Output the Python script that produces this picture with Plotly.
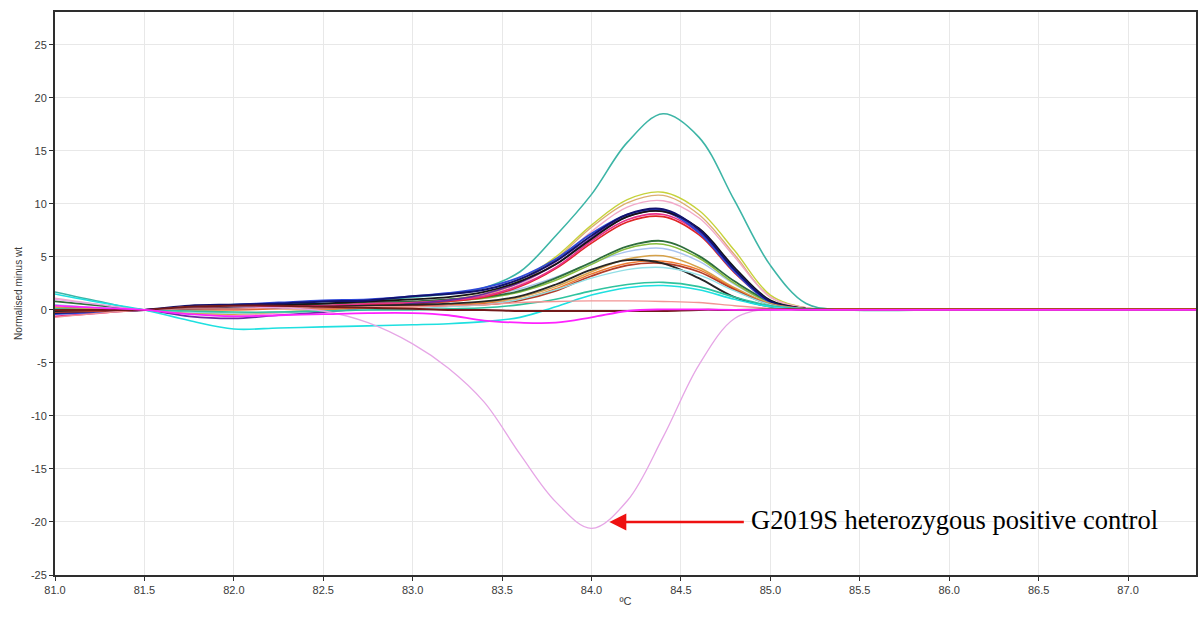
import plotly.graph_objects as go

# Temperature grid (°C) shared by every melt-difference curve
temps = [81.0, 81.25, 81.5, 81.75, 82.0, 82.25, 82.5, 82.75, 83.0, 83.2, 83.4, 83.6,
         83.8, 84.0, 84.2, 84.4, 84.6, 84.8, 85.0, 85.2, 85.4, 86.0, 86.5, 87.0, 87.38]

# Normalised fluorescence minus wild-type reference, one list per sample
s_teal = [1.7, 0.8, 0.0, 0.3, 0.5, 0.6, 0.8, 0.9, 1.2, 1.5, 2.1, 3.6, 7.0, 10.9, 15.8, 18.5, 16.3, 10.3, 4.2, 0.6, 0.05, 0, 0, 0, 0]
s_yellowgreen = [0.3, 0.1, 0.0, 0.2, 0.3, 0.4, 0.5, 0.6, 0.8, 1.0, 1.5, 2.8, 5.0, 8.0, 10.4, 11.1, 9.4, 5.6, 1.4, 0.2, 0.0, 0, 0, 0, 0]
s_tan_hi = [-0.2, -0.1, 0.0, 0.1, 0.2, 0.3, 0.5, 0.6, 0.7, 0.9, 1.4, 2.6, 4.8, 7.8, 10.1, 10.8, 9.0, 5.2, 1.2, 0.2, 0.0, 0, 0, 0, 0]
s_lightpink = [1.1, 0.5, 0.0, -0.3, -0.5, -0.3, 0.0, 0.3, 0.6, 0.8, 1.3, 2.4, 4.5, 7.4, 9.7, 10.3, 8.7, 5.0, 1.2, 0.2, 0.0, 0, 0, 0, 0]
s_navy = [-0.3, -0.1, 0.0, 0.4, 0.5, 0.6, 0.8, 0.9, 1.3, 1.5, 1.9, 2.9, 4.6, 7.0, 9.0, 9.5, 7.6, 3.8, 0.8, 0.1, 0.0, 0, 0, 0, 0]
s_blue = [-0.4, -0.2, 0.0, 0.3, 0.5, 0.7, 0.9, 1.0, 1.3, 1.6, 2.1, 3.1, 4.8, 7.2, 9.0, 9.4, 7.3, 3.6, 0.7, 0.1, 0.0, 0, 0, 0, 0]
s_purple = [0.2, 0.1, 0.0, -0.6, -0.8, -0.5, -0.2, 0.2, 0.6, 0.9, 1.5, 2.6, 4.3, 6.8, 8.8, 9.3, 7.4, 3.7, 0.8, 0.1, 0.0, 0, 0, 0, 0]
s_black = [-0.1, 0.0, 0.0, 0.3, 0.4, 0.5, 0.6, 0.8, 1.0, 1.2, 1.7, 2.7, 4.3, 6.7, 8.8, 9.3, 7.7, 4.0, 0.9, 0.1, 0.0, 0, 0, 0, 0]
s_rose = [-0.6, -0.3, 0.0, 0.1, 0.2, 0.3, 0.4, 0.6, 0.7, 0.9, 1.3, 2.3, 4.0, 6.5, 8.5, 9.0, 7.3, 3.7, 0.8, 0.1, 0.0, 0, 0, 0, 0]
s_red = [0.0, 0.0, 0.0, 0.2, 0.3, 0.3, 0.4, 0.5, 0.6, 0.8, 1.2, 2.2, 3.9, 6.3, 8.3, 8.8, 7.1, 3.5, 0.8, 0.1, 0.0, 0, 0, 0, 0]
s_darkgreen = [0.8, 0.4, 0.0, 0.2, 0.3, 0.5, 0.6, 0.7, 0.8, 1.0, 1.2, 1.8, 3.0, 4.5, 6.0, 6.5, 5.1, 2.7, 0.8, 0.1, 0.0, 0, 0, 0, 0]
s_olive = [0.0, 0.0, 0.0, 0.1, 0.2, 0.3, 0.4, 0.5, 0.6, 0.8, 1.1, 1.7, 2.8, 4.3, 5.8, 6.2, 4.9, 2.5, 0.7, 0.1, 0.0, 0, 0, 0, 0]
s_lightblue = [-0.3, -0.1, 0.0, 0.2, 0.3, 0.4, 0.5, 0.6, 0.8, 1.0, 1.3, 2.0, 3.1, 4.4, 5.5, 5.8, 4.6, 2.4, 0.7, 0.1, 0.0, 0, 0, 0, 0]
s_tan = [0.2, 0.1, 0.0, -0.3, -0.4, -0.2, 0.0, 0.2, 0.4, 0.5, 0.7, 1.2, 2.2, 3.6, 4.8, 5.1, 4.0, 2.1, 0.6, 0.1, 0.1, 0.1, 0.1, 0.1, 0.1]
s_charcoal = [-0.1, 0.0, 0.0, 0.1, 0.2, 0.2, 0.3, 0.4, 0.5, 0.6, 0.8, 1.3, 2.4, 3.8, 4.7, 4.4, 3.0, 1.2, 0.3, 0.0, 0.0, 0, 0, 0, 0]
s_brown = [-0.2, -0.1, 0.0, 0.1, 0.1, 0.2, 0.2, 0.3, 0.4, 0.4, 0.5, 0.9, 1.8, 3.2, 4.2, 4.4, 3.6, 1.9, 0.5, 0.1, 0.0, 0, 0, 0, 0]
s_orange = [0.0, 0.0, 0.0, 0.0, 0.0, 0.1, 0.1, 0.2, 0.3, 0.4, 0.6, 1.0, 2.0, 3.4, 4.4, 4.6, 3.8, 2.0, 0.5, 0.1, 0.1, 0.1, 0.1, 0.1, 0.1]
s_palecyan = [0.5, 0.2, 0.0, -0.2, -0.3, -0.2, -0.1, 0.0, 0.1, 0.3, 0.5, 1.0, 1.9, 3.0, 3.8, 4.0, 3.3, 1.8, 0.5, 0.1, 0.0, 0, 0, 0, 0]
s_seagreen = [0.1, 0.0, 0.0, -0.1, -0.2, -0.2, -0.1, 0.0, 0.0, 0.1, 0.2, 0.5, 1.0, 1.8, 2.4, 2.6, 2.2, 1.2, 0.4, 0.1, 0.0, 0, 0, 0, 0]
s_cyan = [1.5, 0.7, 0.0, -1.0, -1.8, -1.7, -1.6, -1.5, -1.4, -1.3, -1.1, -0.7, 0.3, 1.4, 2.1, 2.3, 1.9, 1.0, 0.3, 0.05, 0.0, 0, 0, 0, 0]
s_salmon = [-0.7, -0.3, 0.0, 0.1, 0.1, 0.2, 0.2, 0.3, 0.3, 0.4, 0.5, 0.7, 0.8, 0.85, 0.85, 0.8, 0.7, 0.4, 0.15, 0.05, 0.0, 0, 0, 0, 0]
s_maroon = [0.0, 0.0, 0.0, 0.3, 0.4, 0.4, 0.3, 0.2, 0.1, 0.0, 0.0, -0.1, -0.1, -0.1, -0.1, -0.1, 0.0, 0.0, 0.05, 0.05, 0.05, 0.05, 0.05, 0.05, 0.05]
s_magenta = [0.4, 0.2, 0.0, -0.4, -0.6, -0.5, -0.4, -0.3, -0.3, -0.5, -1.0, -1.2, -1.2, -0.7, -0.1, 0.05, 0.05, 0.0, 0.0, 0, 0, 0, 0, 0, 0]
s_g2019s = [1.0, 0.5, 0.0, 0.3, 0.3, 0.2, -0.1, -1.2, -3.2, -5.5, -8.7, -13.6, -18.1, -20.6, -18.0, -12.0, -5.2, -0.8, 0.1, 0.0, 0.0, 0, 0, 0, 0]

y_tick_vals = [-25, -20, -15, -10, -5, 0, 5, 10, 15, 20, 25]
y_tick_text = ["-25", "-20", "-15", "-10", "-5", "0", "5", "10", "15", "20", "25"]
x_tick_vals = [81.0, 81.5, 82.0, 82.5, 83.0, 83.5, 84.0, 84.5, 85.0, 85.5, 86.0, 86.5, 87.0]
x_tick_text = ["81.0", "81.5", "82.0", "82.5", "83.0", "83.5", "84.0", "84.5", "85.0", "85.5", "86.0", "86.5", "87.0"]

control_label = "G2019S heterozygous positive control"

# (values, colour, width) in drawing order
curves = [
    (s_teal, "#3db5a6", 1.6),
    (s_yellowgreen, "#c6d23a", 1.4),
    (s_tan_hi, "#dcae72", 1.4),
    (s_lightpink, "#f2a9c9", 1.4),
    (s_lightblue, "#a9c3ef", 1.4),
    (s_olive, "#86bd3e", 1.5),
    (s_darkgreen, "#2e6e3c", 1.8),
    (s_red, "#e02626", 1.6),
    (s_rose, "#e8318a", 1.7),
    (s_purple, "#6a2aa0", 1.7),
    (s_blue, "#2f48d8", 1.8),
    (s_black, "#151515", 1.8),
    (s_navy, "#12126e", 2.0),
    (s_tan, "#d6a24a", 1.5),
    (s_orange, "#ee7a30", 1.5),
    (s_brown, "#b23c28", 1.8),
    (s_charcoal, "#262626", 1.8),
    (s_palecyan, "#92dfe6", 1.4),
    (s_seagreen, "#2fc39e", 1.6),
    (s_cyan, "#1fe0e0", 1.6),
    (s_salmon, "#f29494", 1.4),
    (s_g2019s, "#e6a6e6", 1.3),
    (s_maroon, "#731a1a", 2.0),
    (s_magenta, "#ff22ff", 1.8),
]

fig = go.Figure()
for values, colour, width in curves:
    fig.add_trace(go.Scatter(
        x=temps, y=values, mode="lines",
        line=dict(color=colour, width=width, shape="spline", smoothing=1.0),
        showlegend=False, hoverinfo="skip",
    ))

tick_font = dict(family="Liberation Sans, Arial, sans-serif", size=11, color="#3a3a3a")

fig.update_xaxes(
    range=[81.0, 87.38], tickvals=x_tick_vals, ticktext=x_tick_text,
    showgrid=True, gridcolor="#e8e8e8", gridwidth=1,
    showline=True, linecolor="#2e2e2e", linewidth=2, mirror=True,
    ticks="outside", ticklen=4, tickcolor="#2e2e2e", tickfont=tick_font,
    zeroline=False,
    title=dict(text="ºC", font=dict(family="Liberation Sans, Arial, sans-serif", size=11, color="#3a3a3a"), standoff=2),
)
fig.update_yaxes(
    range=[-25, 28.1], tickvals=y_tick_vals, ticktext=y_tick_text,
    showgrid=True, gridcolor="#e8e8e8", gridwidth=1,
    showline=True, linecolor="#2e2e2e", linewidth=2, mirror=True,
    ticks="outside", ticklen=4, tickcolor="#2e2e2e", tickfont=tick_font,
    zeroline=False,
    title=dict(text="Normalised minus wt", font=dict(family="Liberation Sans, Arial, sans-serif", size=10, color="#3a3a3a"), standoff=6),
)

# Arrow pointing at the trough of the heterozygous control
fig.add_annotation(
    x=84.1, y=-20.0, ax=84.86, ay=-20.0, xref="x", yref="y", axref="x", ayref="y",
    text="", showarrow=True, arrowhead=2, arrowsize=1.3, arrowwidth=2.6, arrowcolor="#ee1111",
)
fig.add_annotation(
    x=84.88, y=-19.85, xref="x", yref="y", xanchor="left", yanchor="middle",
    text=control_label, showarrow=False,
    font=dict(family="Liberation Serif, Times New Roman, serif", size=26.5, color="#000000"),
)

fig.update_layout(
    width=1200, height=618,
    margin=dict(l=55, r=2, t=12, b=43),
    paper_bgcolor="#ffffff", plot_bgcolor="#ffffff",
)

fig.write_html("out.html")
